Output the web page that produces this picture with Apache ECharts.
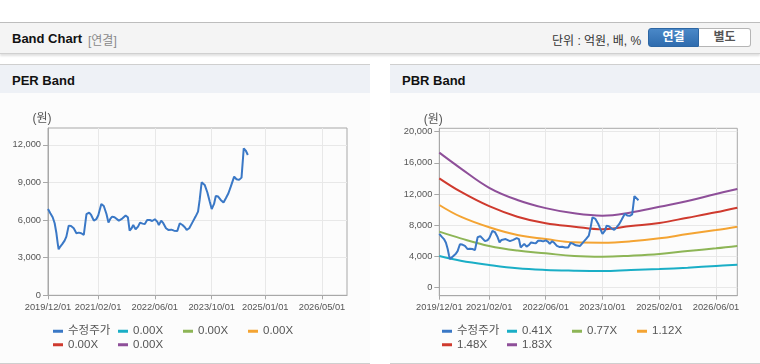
<!DOCTYPE html>
<html><head><meta charset="utf-8">
<script src="https://cdn.jsdelivr.net/npm/echarts@6/dist/echarts.min.js"></script>
<style>
html,body{margin:0;padding:0;background:#fff;width:760px;height:364px;overflow:hidden;font-family:"Liberation Sans","Noto Sans CJK KR",sans-serif;}
#hdr{position:absolute;left:0;top:22px;width:760px;height:30px;background:#f4f4f4;border-top:1px solid #bdbdbd;border-bottom:1px solid #d0d0d0;box-shadow:0 2px 2px rgba(0,0,0,0.12);}
#hdr .t{position:absolute;left:12px;top:8px;font-size:13px;font-weight:bold;color:#111;}
#hdr .s{position:absolute;left:88px;top:8px;font-size:12px;color:#8a8a8a;}
#hdr .u{position:absolute;left:552px;top:8px;font-size:12px;color:#333;}
#b1{position:absolute;left:648px;top:5px;width:51px;height:19px;background:linear-gradient(#4a88c8,#2f6cae);border:1px solid #2d66a3;border-radius:3px 0 0 3px;color:#fff;font-size:12px;font-weight:bold;text-align:center;line-height:17px;box-sizing:border-box;}
#b2{position:absolute;left:699px;top:5px;width:52px;height:19px;background:#fff;border:1px solid #b5b5b5;border-left:none;border-radius:0 3px 3px 0;color:#555;font-size:12px;font-weight:bold;text-align:center;line-height:17px;box-sizing:border-box;}
.panel{position:absolute;top:64px;height:298px;background:#fcfcfc;border-top:1px solid #cfcfcf;border-bottom:1px solid #cfcfcf;}
.panel .tb{position:absolute;left:0;top:0;right:0;height:28px;background:#eef1f6;}
.panel .tt{position:absolute;left:12px;top:8px;font-size:13px;font-weight:bold;color:#111;}
#chart{position:absolute;left:0;top:0;width:760px;height:364px;}
</style></head>
<body>
<div id="hdr"><span class="t">Band Chart</span><span class="s">[연결]</span><span class="u">단위 : 억원, 배, %</span><div id="b1">연결</div><div id="b2">별도</div></div>
<div class="panel" style="left:0;width:370px;"><div class="tb"></div><span class="tt">PER Band</span></div>
<div class="panel" style="left:390px;width:370px;"><div class="tb"></div><span class="tt">PBR Band</span></div>
<div id="chart"></div>
<script>
// ---- data ----
const priceDates = ['2019-12-01','2019-12-21','2020-01-10','2020-01-27','2020-02-11','2020-02-22','2020-03-01','2020-03-15','2020-04-02','2020-04-21',
'2020-05-06','2020-05-26','2020-06-15','2020-07-08','2020-07-31','2020-08-20','2020-09-10','2020-10-02','2020-10-25','2020-11-17',
'2020-12-04','2020-12-27','2021-01-17','2021-02-03','2021-03-01','2021-03-22','2021-04-14','2021-05-01','2021-05-18','2021-06-02',
'2021-06-22','2021-07-29','2021-08-27','2021-09-25','2021-10-14','2021-10-29','2021-11-15','2021-11-29','2021-12-19','2022-01-09',
'2022-01-26','2022-02-17','2022-03-08','2022-03-28','2022-04-20','2022-05-10','2022-06-02','2022-06-22','2022-07-06','2022-07-26',
'2022-08-13','2022-09-05','2022-09-25','2022-10-21','2022-11-13','2022-12-11','2023-01-01','2023-01-24','2023-02-13','2023-03-01',
'2023-03-23','2023-04-18','2023-05-16','2023-06-06','2023-06-20','2023-07-07','2023-08-02','2023-08-25','2023-09-14','2023-10-01',
'2023-10-21','2023-11-05','2023-11-25','2023-12-17','2024-01-10','2024-01-30','2024-02-21','2024-03-12','2024-04-10','2024-04-30',
'2024-05-22','2024-06-12','2024-07-01','2024-07-18','2024-08-05'];
const priceValues = [6890,6550,6230,5750,4950,4150,3670,3890,4100,4360,
4680,5560,5530,5350,4950,5000,4950,4820,6470,6600,
6410,5960,6070,6390,7290,7130,6490,5800,6120,6280,
6230,5960,6120,6360,6230,5160,5350,5610,5270,5480,
5800,5720,5690,6010,6010,5930,6070,5880,5610,5960,
5750,5350,5220,5240,5160,5140,5750,5610,5430,5220,
5350,5800,6280,6680,7610,9020,8810,8200,7480,6890,
7290,7930,7880,7610,7400,7740,8140,8670,9470,9260,
9210,9390,11730,11550,11200];

const bandDates = ['2019-12-01','2020-06-01','2021-02-01','2021-10-01','2022-06-01','2023-02-01','2023-10-01','2024-06-01','2025-02-01','2025-10-01','2026-06-01','2026-12-01'];
const pbrBand041 = [4060,3460,2910,2480,2270,2180,2140,2270,2390,2560,2780,2950];
const pbrBand077 = [7180,6320,5340,4750,4400,4060,3970,4100,4320,4700,5040,5340];
const pbrBand112 = [10600,9100,7740,6750,6240,5810,5770,5940,6320,6880,7390,7820];
const pbrBand148 = [14020,12310,10450,9100,8250,7820,7480,7900,8300,8970,9660,10250];
const pbrBand183 = [17310,15300,12800,11240,10200,9530,9230,9640,10380,11110,12010,12650];

const priceLabel = '수정주가';
const perBandLabels = ['0.00X','0.00X','0.00X','0.00X','0.00X'];
const pbrBandLabels = ['0.41X','0.77X','1.12X','1.48X','1.83X'];
const perXTicks = ['2019-12-01','2021-02-01','2022-06-01','2023-10-01','2025-01-01','2026-05-01'];
const pbrXTicks = ['2019-12-01','2021-02-01','2022-06-01','2023-10-01','2025-02-01','2026-06-01'];
const perYTicks = [0,3000,6000,9000,12000];
const pbrYTicks = [0,4000,8000,12000,16000,20000];
const xStart = '2019-12-01', xEnd = '2026-12-01';

// ---- helpers ----
const bandColors = ['#1aaec6','#8db556','#f4a433','#cf3a2e','#8e4f99'];
const priceColor = '#3a78c6';
function ts(s){const p=s.split('-');return new Date(+p[0],+p[1]-1,+p[2]).getTime();}
function fmtDate(v){const d=new Date(v);const m=d.getMonth()+1,dd=d.getDate();return d.getFullYear()+'/'+(m<10?'0':'')+m+'/'+(dd<10?'0':'')+dd;}
function pairs(dates, vals){return dates.map((d,i)=>[ts(d),vals[i]]);}
const FONT = '"Liberation Sans","Noto Sans CJK KR",sans-serif';
const axisGray = '#a8a8a8', splitGray = '#e8e8e8', labelGray = '#555';

function xAxisCfg(gi, ticks){
  const tv = ticks.map(ts);
  return {type:'value', gridIndex:gi, min:ts(xStart), max:ts(xEnd), scale:true,
    axisLine:{show:true,onZero:false,lineStyle:{color:axisGray}},
    axisTick:{show:true,length:4,lineStyle:{color:axisGray},customValues:tv},
    axisLabel:{customValues:tv,formatter:fmtDate,color:labelGray,fontSize:9.3,fontFamily:FONT,margin:7,showMinLabel:true,showMaxLabel:true,hideOverlap:false},
    splitLine:{show:true,lineStyle:{color:splitGray}}};
}
function yAxisCfg(gi, min, max, ticks){
  return {type:'value', gridIndex:gi, min:min, max:max,
    name:'(원)', nameLocation:'end', nameGap:3, nameTextStyle:{color:labelGray,fontSize:12,fontFamily:FONT,align:'center',padding:[0,12,0,0]},
    axisLine:{show:true,lineStyle:{color:axisGray}},
    axisTick:{show:true,length:5,lineStyle:{color:axisGray},customValues:ticks},
    axisLabel:{customValues:ticks,color:labelGray,fontSize:9.3,fontFamily:FONT,margin:7,hideOverlap:false,
      formatter:v=>v.toLocaleString('en-US')},
    splitLine:{show:true,lineStyle:{color:splitGray}}};
}

const series = [];
series.push({name:priceLabel,type:'line',xAxisIndex:0,yAxisIndex:0,data:pairs(priceDates,priceValues),
  showSymbol:false,symbol:'none',color:priceColor,lineStyle:{width:2,color:priceColor}});
perBandLabels.forEach((l,i)=>series.push({name:'PER_'+i,type:'line',xAxisIndex:0,yAxisIndex:0,data:[],symbol:'none',color:bandColors[i],lineStyle:{width:2}}));
const pbrBands=[pbrBand041,pbrBand077,pbrBand112,pbrBand148,pbrBand183];
series.push({name:priceLabel,type:'line',xAxisIndex:1,yAxisIndex:1,data:pairs(priceDates,priceValues),z:5,
  showSymbol:false,symbol:'none',color:priceColor,lineStyle:{width:2,color:priceColor}});
pbrBandLabels.forEach((l,i)=>series.push({name:l,type:'line',xAxisIndex:1,yAxisIndex:1,data:pairs(bandDates,pbrBands[i]),
  smooth:0.4,symbol:'none',color:bandColors[i],lineStyle:{width:2,color:bandColors[i]},z:2}));

const perNameMap = {}; perBandLabels.forEach((l,i)=>perNameMap['PER_'+i]=l);
// one legend component per item so that items sit on a fixed 65px pitch, 4 per row
function legendItems(baseLeft, names){
  return names.map((n,i)=>({left:baseLeft + 65*(i%4), top: i<4 ? 325.5 : 339, orient:'horizontal', padding:0,
    itemWidth:10, itemHeight:3, icon:'rect', data:[n], selectedMode:false,
    formatter:nm=>perNameMap[nm]||nm,
    textStyle:{color:'#555',fontSize:11.5,fontFamily:FONT}}));
}

const option = {
  animation:false,
  backgroundColor:'transparent',
  grid:[
    {left:48, top:128, right:413, bottom:68.7, containLabel:false, outerBoundsMode:'none', show:true, borderColor:axisGray, borderWidth:1, backgroundColor:'transparent'},
    {left:439.3, top:128.3, right:22.7, bottom:68.3, containLabel:false, outerBoundsMode:'none', show:true, borderColor:axisGray, borderWidth:1, backgroundColor:'transparent'}
  ],
  xAxis:[xAxisCfg(0,perXTicks), xAxisCfg(1,pbrXTicks)],
  yAxis:[yAxisCfg(0,0,13350,perYTicks), yAxisCfg(1,-1030,20430,pbrYTicks)],
  legend: legendItems(53,[priceLabel].concat(perBandLabels.map((l,i)=>'PER_'+i)))
    .concat(legendItems(442,[priceLabel].concat(pbrBandLabels))),
  series:series
};
const chart = echarts.init(document.getElementById('chart'),null,{renderer:'canvas'});
chart.setOption(option);
</script>
</body></html>
